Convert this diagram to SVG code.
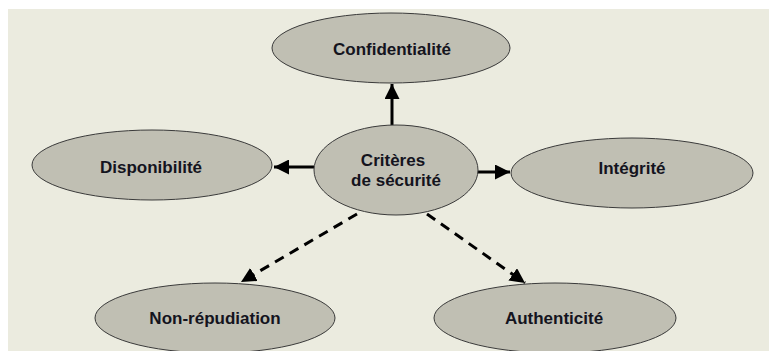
<svg xmlns="http://www.w3.org/2000/svg" width="769" height="351" viewBox="0 0 769 351">
<style>
.node ellipse{fill:#C0BFB3;stroke:#3a3a3a;stroke-width:1}
.node text{font-family:"Liberation Sans",Arial,sans-serif;font-weight:bold;font-size:17px;fill:#14141e;text-anchor:middle}
.solid{stroke:#000;stroke-width:3;fill:none}
.dash{stroke:#000;stroke-width:3;fill:none;stroke-dasharray:10,7}
</style>
<defs>
<marker id="ah" viewBox="0 0 10 10" refX="10" refY="5" markerWidth="5" markerHeight="5" orient="auto" markerUnits="strokeWidth">
<path d="M0,0 L10,5 L0,10 z" fill="#000"/>
</marker>
</defs>
<rect x="0" y="0" width="769" height="351" fill="#fff"/>
<rect x="8" y="9" width="761" height="342" fill="#EBEBDF"/>
<g id="connectors">
<line class="solid" x1="392" y1="125" x2="392" y2="84" marker-end="url(#ah)"/>
<line class="solid" x1="314" y1="167" x2="274" y2="167" marker-end="url(#ah)"/>
<line class="solid" x1="477" y1="172" x2="510" y2="172" marker-end="url(#ah)"/>
<line class="dash" x1="357" y1="214" x2="241" y2="282" marker-end="url(#ah)"/>
<line class="dash" x1="427" y1="214" x2="525" y2="283" marker-end="url(#ah)"/>
</g>
<g id="confidentialite" class="node">
<ellipse cx="391" cy="48" rx="119" ry="35"/>
<text x="392" y="55">Confidentialité</text>
</g>
<g id="criteres" class="node">
<ellipse cx="396" cy="170" rx="82" ry="45"/>
<text x="393" y="166">Critères</text>
<text x="396" y="186">de sécurité</text>
</g>
<g id="disponibilite" class="node">
<ellipse cx="152" cy="165" rx="120" ry="35"/>
<text x="151" y="173">Disponibilité</text>
</g>
<g id="integrite" class="node">
<ellipse cx="632" cy="173" rx="121" ry="35"/>
<text x="632" y="174">Intégrité</text>
</g>
<g id="nonrepudiation" class="node">
<ellipse cx="215" cy="318" rx="120" ry="35"/>
<text x="215" y="324">Non-répudiation</text>
</g>
<g id="authenticite" class="node">
<ellipse cx="555" cy="318" rx="121" ry="35"/>
<text x="554" y="324">Authenticité</text>
</g>
</svg>
